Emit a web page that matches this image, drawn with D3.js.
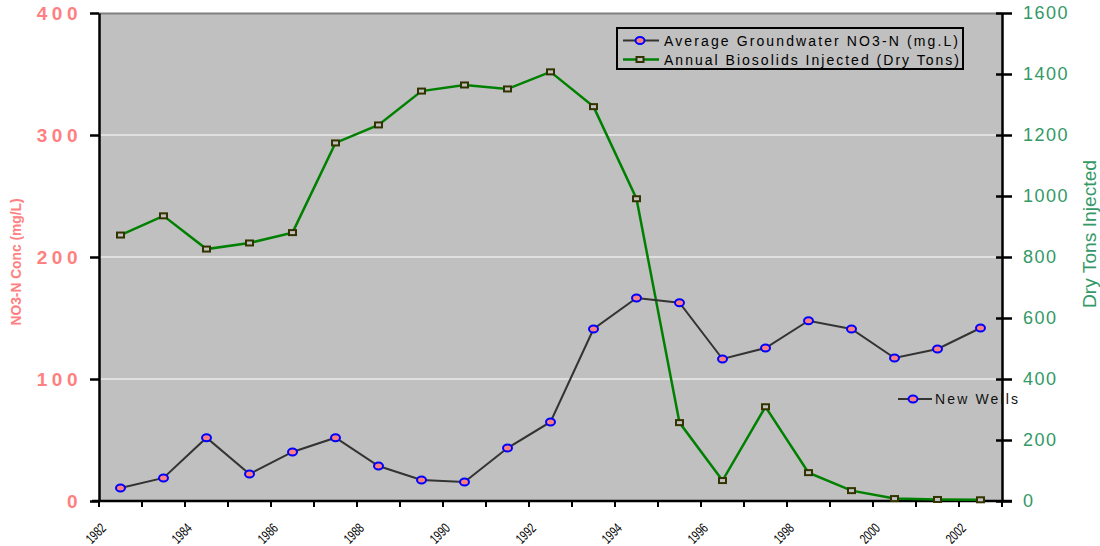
<!DOCTYPE html>
<html>
<head>
<meta charset="utf-8">
<script src="https://cdn.jsdelivr.net/npm/d3@7"></script>
<style>
  html, body { margin: 0; padding: 0; background: #fff; }
  svg { display: block; font-family: Arial, "Liberation Sans", sans-serif; }
</style>
</head>
<body>
<svg id="chart" width="1100" height="546"></svg>
<script>
// Years (categories), one value per year
const years = [1982, 1983, 1984, 1985, 1986, 1987, 1988, 1989, 1990, 1991, 1992,
               1993, 1994, 1995, 1996, 1997, 1998, 1999, 2000, 2001, 2002];
// Average groundwater NO3-N (mg/L)
const no3 = [10.7, 18.9, 51.9, 22.1, 40.2, 51.9, 28.7, 17.2, 15.6, 43.4, 64.8,
             141, 166.4, 162.5, 116.4, 125.4, 147.8, 141, 117.2, 124.6, 141.8];
// Annual biosolids injected (dry tons)
const tons = [872, 935, 826, 846, 880, 1174, 1233, 1344, 1364, 1351, 1407,
              1293, 991, 257, 67, 309, 93, 34, 8, 5, 4];
// Axis tick values
const leftTicks = [0, 100, 200, 300, 400];
const rightTicks = [0, 200, 400, 600, 800, 1000, 1200, 1400, 1600];
const yearLabels = [1982, 1984, 1986, 1988, 1990, 1992, 1994, 1996, 1998, 2000, 2002];
const legendLabels = ["Average Groundwater NO3-N (mg.L)", "Annual Biosolids Injected (Dry Tons)"];

const svg = d3.select("#chart");
const L = 99, R = 1002, T = 13, B = 501;

const x = d3.scaleLinear().domain([1982, 2003]).range([L, R]);
const yL = d3.scaleLinear().domain([0, 400]).range([B, T]);
const yR = d3.scaleLinear().domain([0, 1600]).range([B, T]);

// plot area
svg.append("rect").attr("x", L).attr("y", T).attr("width", R - L).attr("height", B - T)
  .attr("fill", "#C0C0C0");
svg.append("line").attr("x1", L).attr("x2", R).attr("y1", T + 0.5).attr("y2", T + 0.5)
  .attr("stroke", "#808080").attr("stroke-width", 2);

// gridlines
svg.append("g").selectAll("line").data(leftTicks.filter(d => d > 0 && d < 400)).join("line")
  .attr("x1", L).attr("x2", R).attr("y1", d => yL(d)).attr("y2", d => yL(d))
  .attr("stroke", "#fff").attr("stroke-width", 1);

// left axis
const gL = svg.append("g").attr("transform", `translate(${L},0)`)
  .call(d3.axisLeft(yL).tickValues(leftTicks).tickSize(9).tickSizeOuter(0).tickPadding(8));
gL.select(".domain").attr("stroke", "#000").attr("stroke-width", 2.5);
gL.selectAll(".tick line").attr("stroke", "#000").attr("stroke-width", 2.5);
gL.selectAll(".tick text").attr("fill", "#FF8080").attr("font-size", 19).attr("font-weight", "bold")
  .attr("letter-spacing", 4.5).attr("font-family", "Arial, 'Liberation Sans', sans-serif");

// right axis (ticks cross the line)
const gR = svg.append("g").attr("transform", `translate(${R},0)`)
  .call(d3.axisRight(yR).tickValues(rightTicks).tickFormat(d3.format("d"))
    .tickSize(10).tickSizeOuter(0).tickPadding(11));
gR.select(".domain").attr("stroke", "#000").attr("stroke-width", 2.5);
gR.selectAll(".tick line").attr("x1", -6).attr("stroke", "#000").attr("stroke-width", 2.5);
gR.selectAll(".tick text").attr("fill", "#339966").attr("font-size", 18)
  .attr("letter-spacing", 1.5).attr("font-family", "Arial, 'Liberation Sans', sans-serif");

// x axis
const gX = svg.append("g").attr("transform", `translate(0,${B})`);
gX.append("line").attr("x1", 92).attr("x2", 1012).attr("stroke", "#000").attr("stroke-width", 2.5);
gX.selectAll("line.tk").data(d3.range(1982, 2004)).join("line").attr("class", "tk")
  .attr("x1", d => x(d)).attr("x2", d => x(d)).attr("y1", 0).attr("y2", 6)
  .attr("stroke", "#000").attr("stroke-width", 2);
gX.selectAll("text").data(yearLabels).join("text")
  .attr("transform", d => `translate(${x(d) + 8},28) rotate(-45)`)
  .attr("text-anchor", "end").attr("font-size", 14)
  .attr("textLength", 22).attr("lengthAdjust", "spacingAndGlyphs")
  .attr("fill", "#000").text(d => d);

// axis titles
svg.append("text").attr("transform", "translate(21,262) rotate(-90)")
  .attr("text-anchor", "middle").attr("font-size", 14).attr("font-weight", "bold")
  .attr("fill", "#FF8080").attr("textLength", 127).attr("lengthAdjust", "spacingAndGlyphs")
  .text("NO3-N Conc (mg/L)");
svg.append("text").attr("transform", "translate(1096,234) rotate(-90)")
  .attr("text-anchor", "middle").attr("font-size", 18)
  .attr("fill", "#339966").attr("textLength", 148).attr("lengthAdjust", "spacingAndGlyphs")
  .text("Dry Tons Injected");

const mid = d => x(d + 0.5);

// biosolids series
svg.append("path").datum(tons)
  .attr("d", d3.line().x((d, i) => mid(years[i])).y(d => yR(d)))
  .attr("fill", "none").attr("stroke", "#008000").attr("stroke-width", 2.5);
svg.append("g").selectAll("rect").data(tons).join("rect")
  .attr("x", (d, i) => mid(years[i]) - 3.5).attr("y", d => yR(d) - 2.5)
  .attr("width", 7).attr("height", 5)
  .attr("fill", "#C0C0C0").attr("stroke", "#333300").attr("stroke-width", 2);

// NO3 series
svg.append("path").datum(no3)
  .attr("d", d3.line().x((d, i) => mid(years[i])).y(d => yL(d)))
  .attr("fill", "none").attr("stroke", "#333333").attr("stroke-width", 2);
svg.append("g").selectAll("ellipse").data(no3).join("ellipse")
  .attr("cx", (d, i) => mid(years[i])).attr("cy", d => yL(d))
  .attr("rx", 4.5).attr("ry", 3.5)
  .attr("fill", "#FF8080").attr("stroke", "#0000FF").attr("stroke-width", 2);

// legend
const lg = svg.append("g");
lg.append("rect").attr("x", 617).attr("y", 28).attr("width", 346).attr("height", 41)
  .attr("fill", "#C0C0C0").attr("stroke", "#000").attr("stroke-width", 2);
const rows = [40.5, 59.5];
lg.append("line").attr("x1", 623).attr("x2", 659).attr("y1", rows[0]).attr("y2", rows[0])
  .attr("stroke", "#333333").attr("stroke-width", 2);
lg.append("ellipse").attr("cx", 640).attr("cy", rows[0]).attr("rx", 4.5).attr("ry", 3.5)
  .attr("fill", "#FF8080").attr("stroke", "#0000FF").attr("stroke-width", 2);
lg.append("line").attr("x1", 623).attr("x2", 659).attr("y1", rows[1]).attr("y2", rows[1])
  .attr("stroke", "#008000").attr("stroke-width", 2.5);
lg.append("rect").attr("x", 636.5).attr("y", rows[1] - 2.5).attr("width", 7).attr("height", 5)
  .attr("fill", "#C0C0C0").attr("stroke", "#333300").attr("stroke-width", 2);
lg.selectAll("text").data(legendLabels).join("text")
  .attr("x", 664).attr("y", (d, i) => rows[i] + 5)
  .attr("font-size", 14).attr("fill", "#000")
  .attr("textLength", (d, i) => i === 0 ? 294 : 295).attr("lengthAdjust", "spacing")
  .text(d => d);

// "New Wells" label
const nw = svg.append("g");
nw.append("line").attr("x1", 898).attr("x2", 932).attr("y1", 399).attr("y2", 399)
  .attr("stroke", "#333333").attr("stroke-width", 2);
nw.append("ellipse").attr("cx", 913).attr("cy", 399).attr("rx", 4.5).attr("ry", 3.5)
  .attr("fill", "#FF8080").attr("stroke", "#0000FF").attr("stroke-width", 2);
nw.append("text").attr("x", 935).attr("y", 404).attr("font-size", 14).attr("fill", "#111")
  .attr("textLength", 83).attr("lengthAdjust", "spacing").text("New Wells");
</script>
</body>
</html>
